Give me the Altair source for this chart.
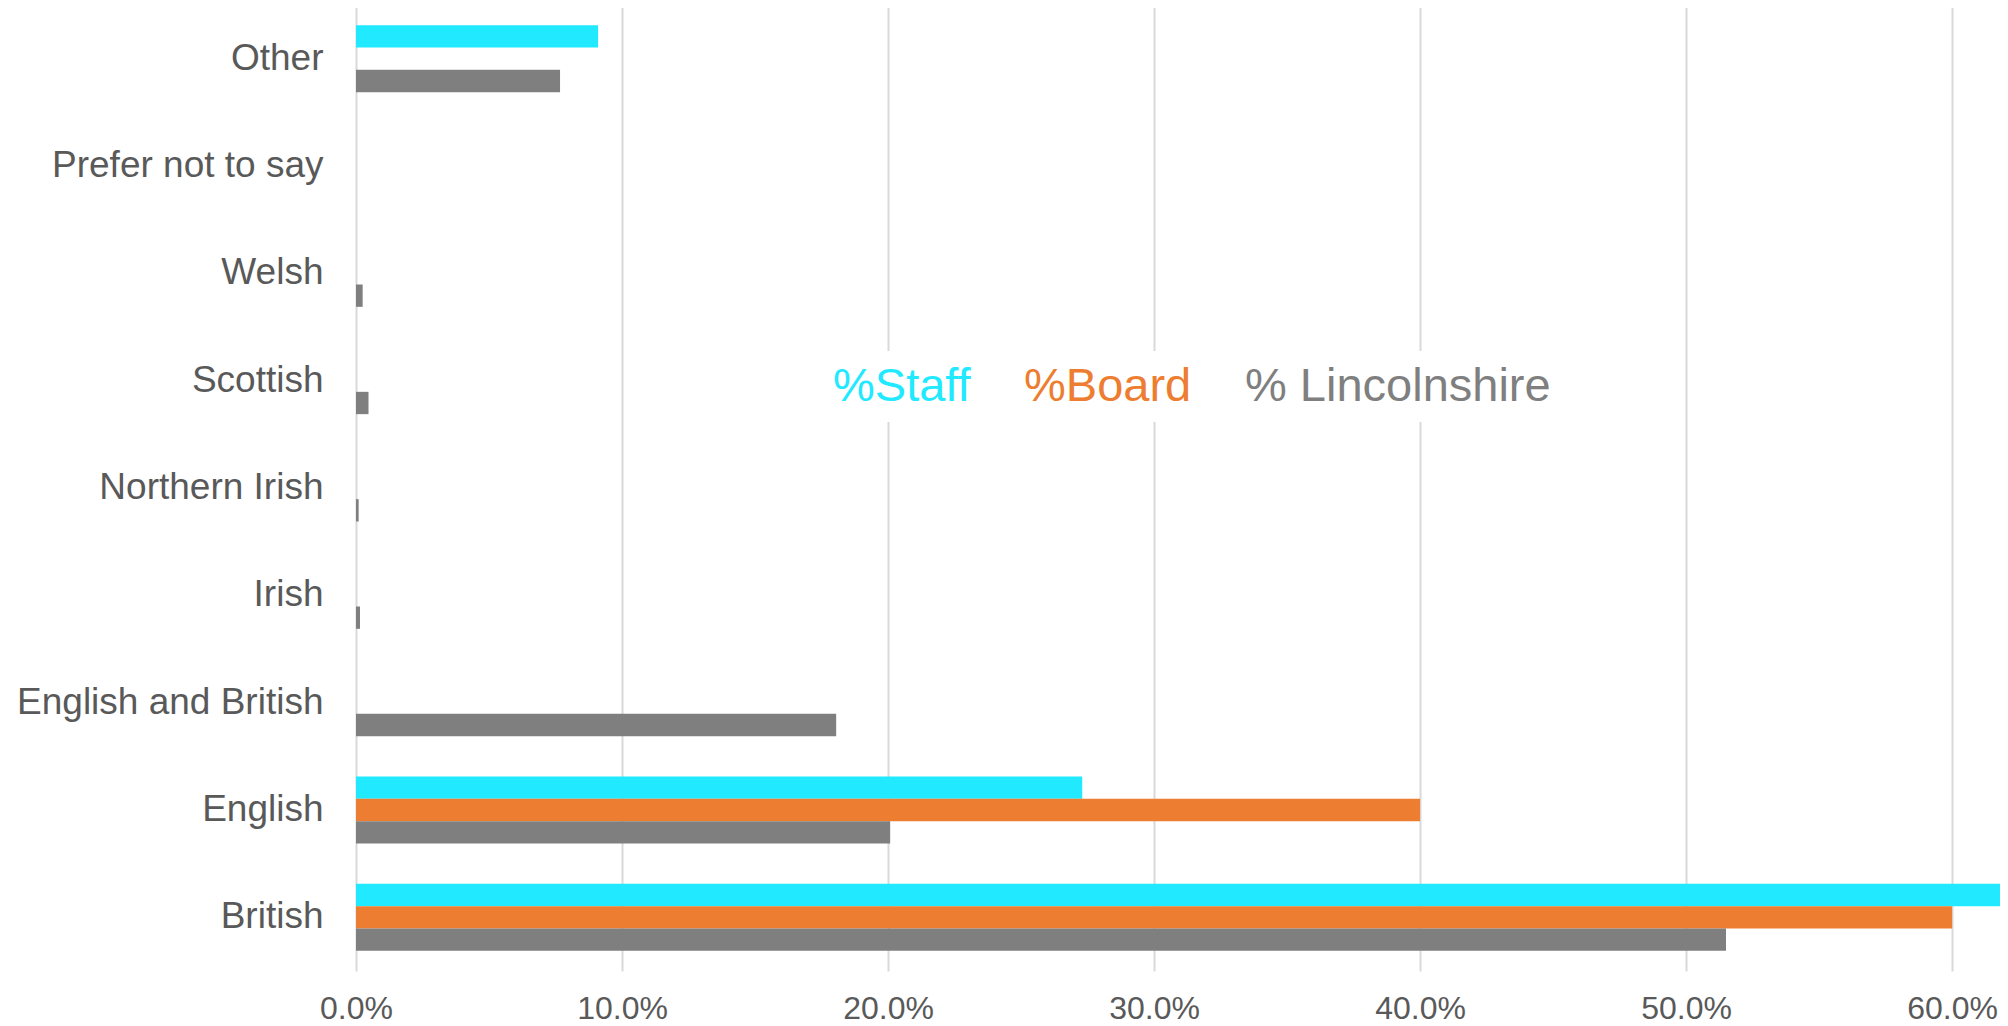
import altair as alt
import pandas as pd

categories = ["Other", "Prefer not to say", "Welsh", "Scottish", "Northern Irish",
              "Irish", "English and British", "English", "British"]
series_names = ["%Staff", "%Board", "% Lincolnshire"]
staff = [0.091, 0.0, 0.0, 0.0, 0.0, 0.0, 0.0, 0.273, 0.64]
board = [0.0, 0.0, 0.0, 0.0, 0.0, 0.0, 0.0, 0.40, 0.60]
lincs = [0.0767, 0.0, 0.0025, 0.0047, 0.001, 0.0015, 0.1805, 0.2008, 0.515]
colors = ["#21E9FF", "#ED7D31", "#7F7F7F"]
x_ticks = [0.0, 0.1, 0.2, 0.3, 0.4, 0.5, 0.6]

rows = []
for name, vals in zip(series_names, [staff, board, lincs]):
    for c, v in zip(categories, vals):
        rows.append({"category": c, "series": name, "value": v})
df = pd.DataFrame(rows)

label_color_expr = (
    "datum.value == '%Staff' ? '#21E9FF' : "
    "(datum.value == '%Board' ? '#ED7D31' : '#7F7F7F')"
)

chart = alt.Chart(df).transform_filter("datum.value > 0").mark_bar(clip=True).encode(
    y=alt.Y("category:N", sort=categories, title=None,
            scale=alt.Scale(domain=categories, paddingInner=0.376, paddingOuter=0.188),
            axis=alt.Axis(labelFont="Liberation Sans", labelFontSize=37,
                          labelColor="#595959", labelPadding=33, labelLimit=500,
                          ticks=False, domain=False, grid=False)),
    x=alt.X("value:Q", title=None,
            scale=alt.Scale(domain=[0, 0.618], nice=False, zero=True),
            axis=alt.Axis(values=x_ticks, format=".1%", labelFont="Liberation Sans",
                          labelFontSize=32, labelColor="#595959", labelPadding=22,
                          ticks=False, domain=False, grid=True, gridColor="#D9D9D9",
                          gridWidth=2, labelFlush=False)),
    yOffset=alt.YOffset("series:N", sort=series_names,
                        scale=alt.Scale(domain=series_names, paddingInner=0, paddingOuter=0)),
    color=alt.Color("series:N", scale=alt.Scale(domain=series_names, range=colors),
                    legend=alt.Legend(
                        title=None, orient="none", direction="horizontal",
                        legendX=418, legendY=346,
                        symbolSize=0, symbolOpacity=0, symbolStrokeWidth=0,
                        labelOffset=0, columnPadding=6,
                        labelFont="Liberation Sans", labelFontSize=47,
                        labelColor=alt.ExprRef(label_color_expr),
                        fillColor="white", padding=12, labelLimit=600)),
).properties(
    width=1644, height=966,
    autosize=alt.AutoSizeParams(type="none"),
    padding={"left": 348, "top": -3, "right": 0, "bottom": 58},
).configure_view(stroke=None)

chart.save("out.html", embed_options={"renderer": "svg", "actions": False})
